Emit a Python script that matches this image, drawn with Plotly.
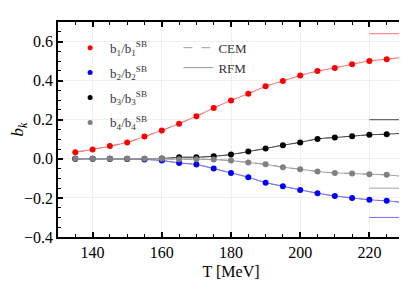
import plotly.graph_objects as go

T = [135, 140, 145, 150, 155, 160, 165, 170, 175, 180, 185, 190, 195, 200, 205, 210, 215, 220, 225, 230]
b1 = [0.034, 0.048, 0.065, 0.084, 0.114, 0.145, 0.180, 0.218, 0.260, 0.299, 0.333, 0.371, 0.398, 0.426, 0.449, 0.465, 0.484, 0.501, 0.509, 0.521]
b2 = [0.0, 0.0, 0.0, -0.001, -0.003, -0.009, -0.021, -0.029, -0.050, -0.072, -0.094, -0.122, -0.140, -0.159, -0.176, -0.190, -0.200, -0.210, -0.215, -0.224]
b3 = [0.0, 0.0, 0.0, 0.0, 0.0, 0.001, 0.008, 0.008, 0.013, 0.022, 0.037, 0.053, 0.070, 0.084, 0.102, 0.109, 0.116, 0.123, 0.126, 0.131]
b4 = [0.0, 0.0, 0.0, 0.0, 0.0, 0.0, -0.002, -0.002, -0.004, -0.009, -0.019, -0.028, -0.043, -0.053, -0.065, -0.072, -0.075, -0.079, -0.082, -0.091]
sb_limits = [0.64, -0.30, 0.20, -0.15]
sb_T = [220, 230]

names = ["b<sub>1</sub>/b<sub>1</sub><sup>SB</sup>", "b<sub>2</sub>/b<sub>2</sub><sup>SB</sup>",
         "b<sub>3</sub>/b<sub>3</sub><sup>SB</sup>", "b<sub>4</sub>/b<sub>4</sub><sup>SB</sup>"]
marker_colors = ["#ff0000", "#0000ff", "#000000", "#808080"]
line_colors = ["#ff7070", "#7070ff", "#444444", "#a0a0a0"]
series = [b1, b2, b3, b4]

font = "Liberation Serif, Times New Roman, serif"
fig = go.Figure()

for ys, mc, lc, lim in zip(series, marker_colors, line_colors, sb_limits):
    fig.add_trace(go.Scatter(x=T, y=ys, mode="lines", line=dict(color="#999999", width=1, dash="dash", shape="spline"),
                             showlegend=False, hoverinfo="skip"))
    fig.add_trace(go.Scatter(x=T, y=ys, mode="lines+markers", line=dict(color=lc, width=1, shape="spline"),
                             marker=dict(color=mc, size=6), showlegend=False))
    fig.add_trace(go.Scatter(x=sb_T, y=[lim, lim], mode="lines", line=dict(color=lc, width=1),
                             showlegend=False, hoverinfo="skip"))

for i, (nm, mc) in enumerate(zip(names, marker_colors)):
    fig.add_trace(go.Scatter(x=[None], y=[None], mode="markers", marker=dict(color=mc, size=5),
                             name=nm, legend="legend", legendgroup="g%d" % i))

fig.add_trace(go.Scatter(x=[None], y=[None], mode="lines", line=dict(color="#999999", width=1, dash="dash"),
                         name="CEM", legend="legend2"))
fig.add_trace(go.Scatter(x=[None], y=[None], mode="lines", line=dict(color="#999999", width=1),
                         name="RFM", legend="legend2"))

axis_common = dict(
    showline=True, linecolor="black", linewidth=1.5, mirror="ticks",
    ticks="inside", ticklen=5, tickwidth=1.5, tickcolor="black",
    showgrid=True, gridcolor="#efefef", gridwidth=1, zeroline=False, automargin=False,
    tickfont=dict(family=font, size=16, color="black"),
)

fig.update_xaxes(range=[130, 230], dtick=20, tick0=0,
                 minor=dict(dtick=5, ticks="inside", ticklen=3, tickwidth=1, tickcolor="black", showgrid=False),
                 title=dict(text="T [MeV]", font=dict(family=font, size=16, color="black"), standoff=6),
                 **axis_common)
fig.update_yaxes(range=[-0.4, 0.7], dtick=0.2, tick0=0, tickformat=".1f",
                 minor=dict(dtick=0.05, ticks="inside", ticklen=3, tickwidth=1, tickcolor="black", showgrid=False),
                 title=dict(text="<i>b<sub>k</sub></i>", font=dict(family=font, size=17, color="black"), standoff=2),
                 **axis_common)

fig.update_layout(
    width=407, height=282,
    margin=dict(l=50, r=11, t=14, b=53),
    paper_bgcolor="white", plot_bgcolor="white",
    font=dict(family=font, color="black"),
    legend=dict(x=0.035, y=0.95, xanchor="left", yanchor="top", bgcolor="rgba(0,0,0,0)",
                font=dict(family=font, size=13, color="#333333"), tracegroupgap=5),
    legend2=dict(x=0.348, y=0.95, xanchor="left", yanchor="top", bgcolor="rgba(0,0,0,0)",
                 font=dict(family=font, size=13, color="#333333")),
)

fig.write_html("out.html")
